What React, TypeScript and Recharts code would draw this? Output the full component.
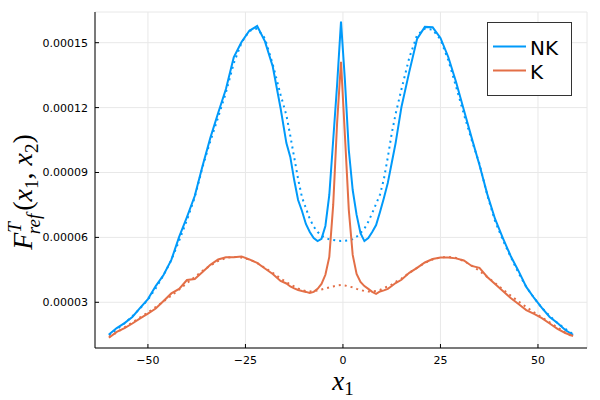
import React from 'react';
import { LineChart, Line, XAxis, YAxis, CartesianGrid } from 'recharts';

// x grid: coarse on the flanks, finer around the central spike
const xs = [
  -60, -58, -56, -54, -52, -50, -48, -46, -44, -42, -40, -38, -36, -34, -32, -30, -28, -26, -24, -22, -20, -18, -16,
  -14.5, -13.5, -12.5, -11.5, -10.5, -9.5, -8.5, -7.5, -6.5, -5.5, -4.5, -3.5, -2.5, -1.5, -0.5,
  0.5, 1.5, 2.5, 3.5, 4.5, 5.5, 6.5, 7.5, 8.5, 9.5, 10.5, 11.5, 12.5, 13.5,
  15, 17, 19, 21, 23, 25, 27, 29, 31, 33, 35, 37, 39, 41, 43, 45, 47, 49, 51, 53, 55, 57, 59,
];

const nkSolid = [
  1.51e-5, 1.81e-5, 2.04e-5, 2.32e-5, 2.74e-5, 3.15e-5, 3.75e-5, 4.26e-5, 4.96e-5, 6.02e-5, 6.94e-5, 7.91e-5, 9.30e-5,
  10.60e-5, 11.75e-5, 12.86e-5, 14.32e-5, 15.03e-5, 15.55e-5, 15.77e-5, 15.06e-5, 13.90e-5, 11.98e-5,
  10.36e-5, 9.72e-5, 8.65e-5, 7.73e-5, 7.22e-5, 6.62e-5, 6.25e-5, 5.97e-5, 5.83e-5, 5.93e-5, 6.53e-5, 7.96e-5, 10.50e-5,
  13.05e-5, 15.98e-5,
  13.28e-5, 10.04e-5, 8.19e-5, 7.04e-5, 6.20e-5, 5.83e-5, 5.97e-5, 6.25e-5, 6.57e-5, 7.17e-5, 7.82e-5, 8.52e-5, 9.44e-5,
  10.36e-5,
  12.03e-5, 13.65e-5, 15.17e-5, 15.73e-5, 15.71e-5, 15.22e-5, 14.34e-5, 13.18e-5, 11.89e-5, 10.60e-5, 9.35e-5, 8.00e-5,
  6.85e-5, 5.97e-5, 5.14e-5, 4.45e-5, 3.71e-5, 3.20e-5, 2.74e-5, 2.32e-5, 2.04e-5, 1.72e-5, 1.49e-5,
];

const nkDotted = [
  1.48e-5, 1.75e-5, 2.03e-5, 2.35e-5, 2.72e-5, 3.12e-5, 3.65e-5, 4.25e-5, 4.95e-5, 5.85e-5, 6.80e-5, 7.85e-5, 9.25e-5,
  10.45e-5, 11.55e-5, 12.70e-5, 14.05e-5, 15.00e-5, 15.55e-5, 15.65e-5, 15.20e-5, 14.00e-5, 12.60e-5,
  11.65e-5, 10.70e-5, 9.70e-5, 8.70e-5, 7.85e-5, 7.35e-5, 6.85e-5, 6.50e-5, 6.25e-5, 6.08e-5, 5.98e-5, 5.91e-5, 5.88e-5,
  5.85e-5, 5.83e-5,
  5.84e-5, 5.86e-5, 5.92e-5, 6.03e-5, 6.20e-5, 6.40e-5, 6.72e-5, 7.12e-5, 7.55e-5, 7.98e-5, 8.70e-5, 9.70e-5, 10.80e-5,
  11.70e-5,
  12.85e-5, 14.30e-5, 15.35e-5, 15.65e-5, 15.60e-5, 15.15e-5, 14.20e-5, 12.97e-5, 11.70e-5, 10.50e-5, 9.40e-5, 7.95e-5,
  6.75e-5, 5.88e-5, 5.10e-5, 4.36e-5, 3.71e-5, 3.20e-5, 2.74e-5, 2.37e-5, 2.04e-5, 1.77e-5, 1.53e-5,
];

const kSolid = [
  1.36e-5, 1.63e-5, 1.81e-5, 2.02e-5, 2.26e-5, 2.48e-5, 2.71e-5, 3.06e-5, 3.41e-5, 3.62e-5, 4.03e-5, 4.08e-5, 4.40e-5,
  4.73e-5, 4.98e-5, 5.08e-5, 5.08e-5, 5.12e-5, 4.98e-5, 4.82e-5, 4.56e-5, 4.31e-5, 3.99e-5,
  3.87e-5, 3.73e-5, 3.64e-5, 3.57e-5, 3.52e-5, 3.48e-5, 3.43e-5, 3.48e-5, 3.62e-5, 3.85e-5, 4.27e-5, 5.10e-5, 7.50e-5,
  11.29e-5, 14.12e-5,
  10.73e-5, 7.27e-5, 5.19e-5, 4.31e-5, 3.94e-5, 3.75e-5, 3.62e-5, 3.48e-5, 3.39e-5, 3.50e-5, 3.55e-5, 3.62e-5, 3.75e-5,
  3.89e-5,
  4.04e-5, 4.36e-5, 4.59e-5, 4.84e-5, 5.00e-5, 5.07e-5, 5.07e-5, 5.03e-5, 4.93e-5, 4.68e-5, 4.59e-5, 4.17e-5,
  3.85e-5, 3.52e-5, 3.20e-5, 2.92e-5, 2.64e-5, 2.46e-5, 2.27e-5, 2.02e-5, 1.77e-5, 1.58e-5, 1.44e-5,
];

const kDotted = [
  1.40e-5, 1.60e-5, 1.84e-5, 2.07e-5, 2.30e-5, 2.53e-5, 2.78e-5, 3.04e-5, 3.31e-5, 3.59e-5, 3.89e-5, 4.17e-5, 4.45e-5,
  4.70e-5, 4.91e-5, 5.05e-5, 5.10e-5, 5.07e-5, 4.98e-5, 4.82e-5, 4.59e-5, 4.36e-5, 4.10e-5,
  3.94e-5, 3.82e-5, 3.73e-5, 3.64e-5, 3.57e-5, 3.52e-5, 3.50e-5, 3.52e-5, 3.55e-5, 3.59e-5, 3.64e-5, 3.69e-5, 3.73e-5,
  3.78e-5, 3.80e-5,
  3.78e-5, 3.73e-5, 3.69e-5, 3.62e-5, 3.57e-5, 3.52e-5, 3.50e-5, 3.50e-5, 3.52e-5, 3.57e-5, 3.66e-5, 3.73e-5, 3.82e-5,
  3.94e-5,
  4.10e-5, 4.36e-5, 4.59e-5, 4.82e-5, 4.98e-5, 5.07e-5, 5.10e-5, 5.05e-5, 4.91e-5, 4.70e-5, 4.45e-5, 4.17e-5,
  3.89e-5, 3.59e-5, 3.31e-5, 3.04e-5, 2.78e-5, 2.53e-5, 2.30e-5, 2.07e-5, 1.84e-5, 1.60e-5, 1.40e-5,
];

const xTicks = [-50, -25, 0, 25, 50];
const yTicks = [0.00003, 0.00006, 0.00009, 0.00012, 0.00015];
const legendItems = [
  { name: 'NK', color: '#009AFA' },
  { name: 'K', color: '#E36F47' },
];

const data = xs.map((x, i) => ({
  x,
  nk: nkSolid[i],
  nkRef: nkDotted[i],
  k: kSolid[i],
  kRef: kDotted[i],
}));

const W = 600;
const H = 400;
const PLOT_LEFT = 95;
const PLOT_BOTTOM = 348;
const TICK_FONT = 'DejaVu Sans, sans-serif';
const MATH_FONT = 'Liberation Serif, DejaVu Serif, serif';

const fmtX = (v: number) => (v < 0 ? '\u2212' + Math.abs(v) : String(v));

function XTick({ x, y, payload }: any) {
  return (
    <g>
      <line x1={x} x2={x} y1={PLOT_BOTTOM} y2={PLOT_BOTTOM - 4} stroke="#000" strokeWidth={1} />
      <text x={x} y={y} dy="0.71em" textAnchor="middle" fontFamily={TICK_FONT} fontSize={11} fill="#000">
        {fmtX(payload.value)}
      </text>
    </g>
  );
}

function YTick({ x, y, payload }: any) {
  return (
    <g>
      <line x1={PLOT_LEFT} x2={PLOT_LEFT + 4} y1={y} y2={y} stroke="#000" strokeWidth={1} />
      <text x={x} y={y} dy="0.355em" textAnchor="end" fontFamily={TICK_FONT} fontSize={11} fill="#000">
        {payload.value.toFixed(5)}
      </text>
    </g>
  );
}

export default function App() {
  return (
    <div style={{ position: 'absolute', left: 0, top: 0, width: W, height: H, background: '#fff' }}>
      <LineChart width={W} height={H} data={data} margin={{ top: 12, right: 13, bottom: 0, left: 0 }}>
        <CartesianGrid stroke="#e8e8e8" strokeWidth={1} />
        <XAxis
          dataKey="x"
          type="number"
          domain={[-63.57, 62.57]}
          ticks={xTicks}
          height={52}
          tickSize={0}
          tickMargin={8}
          tickLine={false}
          axisLine={{ stroke: '#000' }}
          tick={<XTick />}
          allowDataOverflow
        />
        <YAxis
          type="number"
          domain={[0.00000887, 0.00016419]}
          ticks={yTicks}
          width={95}
          tickSize={0}
          tickMargin={7}
          tickLine={false}
          axisLine={{ stroke: '#000' }}
          tick={<YTick />}
          allowDataOverflow
        />
        <Line type="linear" dataKey="nk" stroke="#009AFA" strokeWidth={2} dot={false} isAnimationActive={false} />
        <Line
          type="linear"
          dataKey="nkRef"
          stroke="#009AFA"
          strokeWidth={2}
          strokeDasharray="2 4"
          dot={false}
          isAnimationActive={false}
        />
        <Line type="linear" dataKey="k" stroke="#E36F47" strokeWidth={2} dot={false} isAnimationActive={false} />
        <Line
          type="linear"
          dataKey="kRef"
          stroke="#E36F47"
          strokeWidth={2}
          strokeDasharray="2 4"
          dot={false}
          isAnimationActive={false}
        />
      </LineChart>

      <svg
        width={W}
        height={H}
        style={{ position: 'absolute', left: 0, top: 0, pointerEvents: 'none' }}
      >
        {/* y label */}
        <text
          transform="translate(32,192) rotate(-90)"
          textAnchor="middle"
          fontFamily={MATH_FONT}
          fontSize={28}
          fill="#000"
        >
          <tspan fontStyle="italic">F</tspan>
          <tspan fontStyle="italic" fontSize={19} dy={-11}>T</tspan>
          <tspan fontStyle="italic" fontSize={19} dx={-11} dy={19}>ref</tspan>
          <tspan dx={3} dy={-8}>(</tspan>
          <tspan fontStyle="italic">x</tspan>
          <tspan fontSize={19} dy={6}>1</tspan>
          <tspan dy={-6}>, </tspan>
          <tspan fontStyle="italic">x</tspan>
          <tspan fontSize={19} dy={6}>2</tspan>
          <tspan dy={-6}>)</tspan>
        </text>

        {/* x label */}
        <text x={343} y={390} textAnchor="middle" fontFamily={MATH_FONT} fontSize={27} fill="#000">
          <tspan fontStyle="italic">x</tspan>
          <tspan fontSize={19} dy={5}>1</tspan>
        </text>

        {/* legend */}
        <rect x={487.5} y={22.5} width={84} height={73} fill="#fff" stroke="#333" strokeWidth={1} />
        {legendItems.map((item, i) => (
          <g key={item.name}>
            <line x1={493} x2={526} y1={46.5 + i * 24} y2={46.5 + i * 24} stroke={item.color} strokeWidth={2} />
            <text x={530} y={54.5 + i * 24} fontFamily={TICK_FONT} fontSize={20} fill="#000">
              {item.name}
            </text>
          </g>
        ))}
      </svg>
    </div>
  );
}
